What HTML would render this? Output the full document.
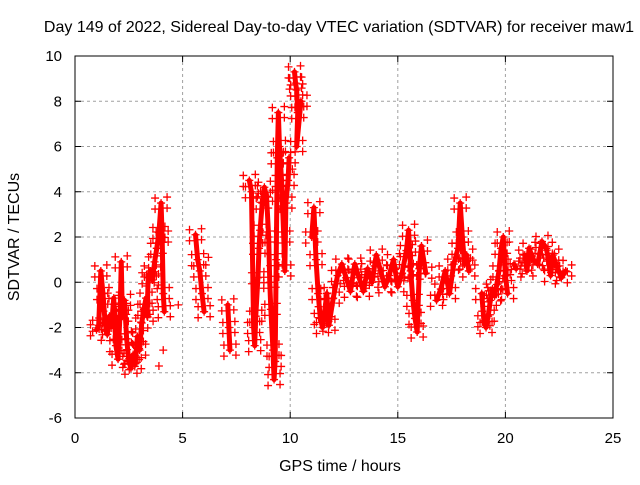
<!DOCTYPE html>
<html><head><meta charset="utf-8"><style>
body{margin:0;background:#fff}
svg text{font-family:"Liberation Sans",sans-serif;fill:#000}
</style></head><body>
<svg id="chart" width="640" height="480">
<text x="339" y="32" font-size="16" text-anchor="middle">Day 149 of 2022, Sidereal Day-to-day VTEC variation (SDTVAR) for receiver maw1</text>
<text x="340" y="471" font-size="16" text-anchor="middle">GPS time / hours</text>
<text x="19" y="237" font-size="16" text-anchor="middle" transform="rotate(-90 19 237)">SDTVAR / TECUs</text>
<g id="grid"></g><g id="ticks"></g><g id="marks"></g>
<rect x="75" y="56" width="538" height="362" fill="none" stroke="#000"/>
</svg>
<script>
const xTicks=[0,5,10,15,20,25];
const yTicks=[-6,-4,-2,0,2,4,6,8,10];
const trackA_t=[1.0,1.1,1.2,1.3,1.4,1.5,1.6,1.7,1.8,1.9,2.0,2.1,2.15,2.2,2.3,2.4,2.5,2.6,2.7,2.8,2.9,3.0,3.1,3.2,3.3,3.35,3.4,3.5,3.6,3.7,3.8,3.9,4.0,4.05,4.1,4.15];
const trackA_v=[-2.1,-1.9,0.5,-0.5,-1.8,-2.3,-1.5,-1.9,-0.7,-2.8,-3.4,-1.2,0.9,-1.5,-0.8,-2.5,-3.5,-3.8,-3.2,-3.6,-2.4,-3.0,-1.8,-1.2,-0.7,-1.5,0.2,0.5,0.1,0.9,1.5,2.2,3.5,2.0,-0.5,-1.3];
const trackB_t=[5.6,5.7,5.8,5.9,6.0];
const trackB_v=[2.1,1.0,0.5,-0.5,-1.3];
const trackC_t=[7.1,7.15,7.2];
const trackC_v=[-1.0,-2.0,-3.0];
const trackD_t=[8.1,8.2,8.3,8.35,8.4,8.5,8.55,8.6,8.7,8.8,8.9,9.0,9.05,9.1,9.2,9.25,9.3,9.35,9.4,9.45,9.5,9.6,9.7,9.75,9.8,9.9,9.95];
const trackD_v=[4.5,4.0,-2.0,-2.8,-1.5,0.2,1.5,2.3,3.5,4.2,3.8,2.0,0,-1.2,-3.0,-4.3,-3.5,1.0,5.5,7.5,6.0,4.5,2.0,0.5,3.5,4.5,5.5];
const trackE_t=[10.2,10.25,10.3,10.35,10.3,10.5];
const trackE_v=[9.3,8.8,8.5,7.5,6.0,8.0];
const trackF_t=[11.0,11.1,11.2,11.3,11.4,11.5,11.6,11.7,11.8,12.0,12.2,12.4,12.6,12.8,13.0,13.2,13.4,13.6,13.8,14.0,14.2,14.4,14.6,14.8,15.0,15.2,15.4,15.5,15.6,15.7,15.8,15.9,16.0,16.1,16.3];
const trackF_v=[2.0,3.3,1.0,-0.5,-1.6,-2.0,-1.3,-0.5,-1.9,-0.7,0.3,0.8,0.2,-0.4,0.8,0.2,-0.4,0.6,0.0,1.2,0.5,-0.2,0.3,1.0,-0.2,0.4,1.4,2.3,0.5,-0.8,-1.6,-2.2,0.6,1.6,0.4];
const trackG_t=[16.8,17.0,17.2,17.4,17.6,17.8,17.9,18.0,18.1,18.2,18.3];
const trackG_v=[-0.8,-0.3,0.5,-0.5,0.8,1.5,3.5,2.0,0.8,1.2,0.5];
const trackH_t=[18.9,19.0,19.1,19.2,19.3,19.4,19.5,19.6,19.7,19.8,19.9,20.0,20.1];
const trackH_v=[-0.5,-1.7,-2.0,-1.5,-0.8,-0.3,-0.6,-0.1,0.5,1.5,2.0,0.3,-0.5];
const trackI_t=[20.4,20.5];
const trackI_v=[0.8,0.6];
const trackJ_t=[20.9,21.0,21.1,21.3,21.5,21.7,21.9,22.0,22.1,22.2,22.4,22.6,22.8];
const trackJ_v=[1.2,0.5,1.5,1.0,0.8,1.8,1.5,1.0,0.3,1.2,0.7,0.2,0.5];
const single_t=[4.8,6.2,4.1,10.1,3.9];
const single_v=[-1.0,1.1,-3.0,5.0,-3.7];
const tracks=[[trackA_t,trackA_v],[trackB_t,trackB_v],[trackC_t,trackC_v],[trackD_t,trackD_v],[trackE_t,trackE_v],[trackF_t,trackF_v],[trackG_t,trackG_v],[trackH_t,trackH_v],[trackI_t,trackI_v],[trackJ_t,trackJ_v]];
const X=t=>75+t*(538/25), Y=v=>418-(v+6)*(362/16);
const NS='http://www.w3.org/2000/svg';
const grid=document.getElementById('grid'),ticks=document.getElementById('ticks'),marks=document.getElementById('marks');
function mk(tag,attrs,parent){const e=document.createElementNS(NS,tag);for(const k in attrs)e.setAttribute(k,attrs[k]);parent.appendChild(e);return e;}
xTicks.forEach(t=>{const x=X(t);
 if(t>0&&t<25){const g=mk('line',{x1:x,x2:x,y1:56,y2:418,stroke:'#a0a0a0','stroke-dasharray':'3,3'},grid);
 
 }
 mk('line',{x1:x,x2:x,y1:418,y2:412,stroke:'#000'},ticks);mk('line',{x1:x,x2:x,y1:56,y2:62,stroke:'#000'},ticks);
 const l=mk('text',{x:x,y:443,'font-size':15,'text-anchor':'middle'},ticks);l.textContent=t;
 
 });
yTicks.forEach(v=>{const y=Y(v);
 if(v>-6&&v<10){const g=mk('line',{x1:75,x2:613,y1:y,y2:y,stroke:'#a0a0a0','stroke-dasharray':'3,3'},grid);
 
 }
 mk('line',{x1:75,x2:81,y1:y,y2:y,stroke:'#000'},ticks);mk('line',{x1:613,x2:607,y1:y,y2:y,stroke:'#000'},ticks);
 const l=mk('text',{x:62,y:y+5,'font-size':15,'text-anchor':'end'},ticks);l.textContent=v;
 
 });
function plus(x,y,c){const p=mk('path',{d:`M${x-4},${y}h8M${x},${y-4}v8`,stroke:c,'stroke-width':1.3,fill:'none'},marks);
 
 }
tracks.forEach(([ts,vs])=>{
 const d=ts.map((t,i)=>(i?'L':'M')+X(t)+','+Y(vs[i])).join('');
 const pl=mk('path',{d:d,stroke:'#ff0000','stroke-width':5,fill:'none','stroke-linejoin':'round','stroke-linecap':'round'},marks);
 
 
 ts.forEach((t,i)=>{plus(X(t)+6,Y(vs[i])-6,'#ff0000');plus(X(t)-6,Y(vs[i])+6,'#ff0000');plus(X(t)+6,Y(vs[i])+5,'#ff0000');plus(X(t)-6,Y(vs[i])-5,'#ff0000');plus(X(t),Y(vs[i]),'#ff0000');});
});
single_t.forEach((t,i)=>plus(X(t),Y(single_v[i]),'#ff0000'));
</script>
</body></html>
